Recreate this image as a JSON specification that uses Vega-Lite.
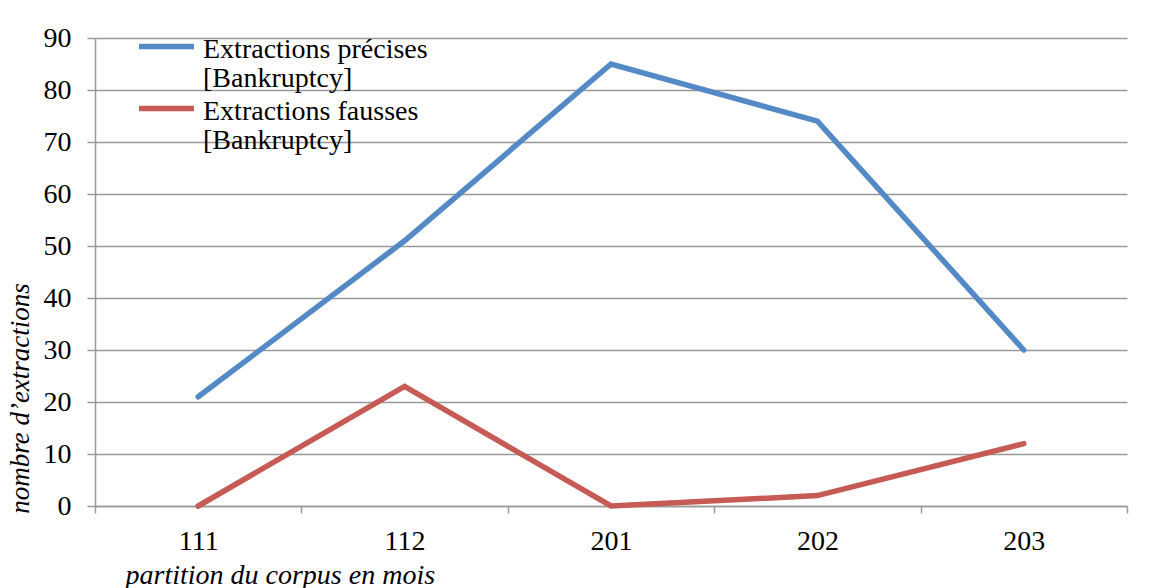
{
  "$schema": "https://vega.github.io/schema/vega-lite/v6.json",
  "width": 1032,
  "height": 468,
  "autosize": {"type": "none"},
  "padding": {"left": 95, "top": 38, "right": 28, "bottom": 82},
  "background": "white",
  "data": {
    "values": [
      {"mois": "111", "serie": "Extractions précises [Bankruptcy]", "valeur": 21},
      {"mois": "112", "serie": "Extractions précises [Bankruptcy]", "valeur": 51},
      {"mois": "201", "serie": "Extractions précises [Bankruptcy]", "valeur": 85},
      {"mois": "202", "serie": "Extractions précises [Bankruptcy]", "valeur": 74},
      {"mois": "203", "serie": "Extractions précises [Bankruptcy]", "valeur": 30},
      {"mois": "111", "serie": "Extractions fausses [Bankruptcy]", "valeur": 0},
      {"mois": "112", "serie": "Extractions fausses [Bankruptcy]", "valeur": 23},
      {"mois": "201", "serie": "Extractions fausses [Bankruptcy]", "valeur": 0},
      {"mois": "202", "serie": "Extractions fausses [Bankruptcy]", "valeur": 2},
      {"mois": "203", "serie": "Extractions fausses [Bankruptcy]", "valeur": 12}
    ]
  },
  "mark": {"type": "line", "strokeWidth": 5.5, "strokeCap": "round", "strokeJoin": "miter"},
  "encoding": {
    "x": {
      "field": "mois",
      "type": "ordinal",
      "sort": null,
      "scale": {"type": "band", "paddingInner": 0, "paddingOuter": 0},
      "axis": {
        "title": "partition du corpus en mois",
        "tickBand": "extent",
        "labelAngle": 0,
        "grid": false,
        "domainColor": "#999999",
        "domainWidth": 1.5,
        "tickColor": "#999999",
        "tickWidth": 1.5,
        "tickSize": 7,
        "labelFont": "Liberation Serif",
        "labelFontSize": 28,
        "labelColor": "black",
        "labelPadding": 14,
        "titleFont": "Liberation Serif",
        "titleFontSize": 28,
        "titleFontStyle": "italic",
        "titleFontWeight": "normal",
        "titleColor": "black",
        "titleX": 30,
        "titleY": 77,
        "titleAlign": "left",
        "titleBaseline": "alphabetic"
      }
    },
    "y": {
      "field": "valeur",
      "type": "quantitative",
      "scale": {"domain": [0, 90], "nice": false},
      "axis": {
        "title": "nombre d’extractions",
        "values": [0, 10, 20, 30, 40, 50, 60, 70, 80, 90],
        "domainColor": "#999999",
        "domainWidth": 1.5,
        "tickColor": "#999999",
        "tickWidth": 1.5,
        "tickSize": 8,
        "gridColor": "#999999",
        "gridWidth": 1.5,
        "labelFont": "Liberation Serif",
        "labelFontSize": 28,
        "labelColor": "black",
        "labelPadding": 16,
        "titleFont": "Liberation Serif",
        "titleFontSize": 27,
        "titleFontStyle": "italic",
        "titleFontWeight": "normal",
        "titleColor": "black",
        "titleX": -75,
        "titleY": 360,
        "titleAngle": -90,
        "titleAlign": "center",
        "titleBaseline": "middle"
      }
    },
    "color": {
      "field": "serie",
      "type": "nominal",
      "sort": null,
      "scale": {
        "domain": ["Extractions précises [Bankruptcy]", "Extractions fausses [Bankruptcy]"],
        "range": ["#5389C5", "#C65A55"]
      },
      "legend": {
        "title": null,
        "orient": "none",
        "legendX": 55,
        "legendY": 3,
        "symbolType": "M-2,-0.8L2,-0.8",
        "symbolSize": 756,
        "symbolStrokeWidth": 5.5,
        "labelFont": "Liberation Serif",
        "labelFontSize": 28,
        "labelColor": "black",
        "labelBaseline": "alphabetic",
        "labelOffset": 20,
        "labelLimit": 0,
        "rowPadding": 4,
        "labelExpr": "[slice(datum.label, 0, indexof(datum.label, ' [')), slice(datum.label, indexof(datum.label, '['))]"
      }
    }
  },
  "config": {"view": {"stroke": null}, "style": {"guide-label": {"lineHeight": 29}}}
}
